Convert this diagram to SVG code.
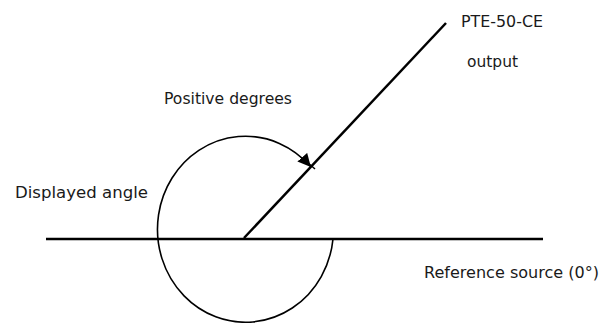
<svg xmlns="http://www.w3.org/2000/svg" width="604" height="323" viewBox="0 0 604 323">
<style>
.ln{stroke:#000;stroke-width:2.5;fill:none;stroke-linecap:butt}
.arc{stroke:#000;stroke-width:1.6;fill:none}
.t{font-family:"DejaVu Sans","Liberation Sans",sans-serif;font-size:15.5px;fill:#1a1a1a}
</style>
<defs>
<marker id="ah" viewBox="0 0 10 10" refX="9" refY="5" markerWidth="13" markerHeight="13" markerUnits="userSpaceOnUse" orient="auto">
<path d="M0,0 L10,5 L0,10 z" fill="#000"/>
</marker>
</defs>
<g id="connectors">
<line id="reference" class="ln" x1="46" y1="239" x2="543" y2="239"/>
<line id="output-line" class="ln" x1="244" y1="238" x2="446" y2="23"/>
<path id="angle-arc" class="arc" d="M333,239 A88,93 0 1 1 310,166" marker-end="url(#ah)"/>
<line id="tick" stroke="#000" stroke-width="1.5" x1="307" y1="162" x2="315" y2="169"/>
</g>
<g id="label-pte"><text class="t" x="461" y="27" textLength="82" lengthAdjust="spacingAndGlyphs">PTE-50-CE</text></g>
<g id="label-output"><text class="t" x="467" y="67" textLength="51" lengthAdjust="spacingAndGlyphs">output</text></g>
<g id="label-positive"><text class="t" x="164" y="104" textLength="128" lengthAdjust="spacingAndGlyphs">Positive degrees</text></g>
<g id="label-displayed"><text class="t" x="15" y="198" textLength="133" lengthAdjust="spacingAndGlyphs">Displayed angle</text></g>
<g id="label-reference"><text class="t" x="424" y="278" textLength="175" lengthAdjust="spacingAndGlyphs">Reference source (0°)</text></g>
</svg>
